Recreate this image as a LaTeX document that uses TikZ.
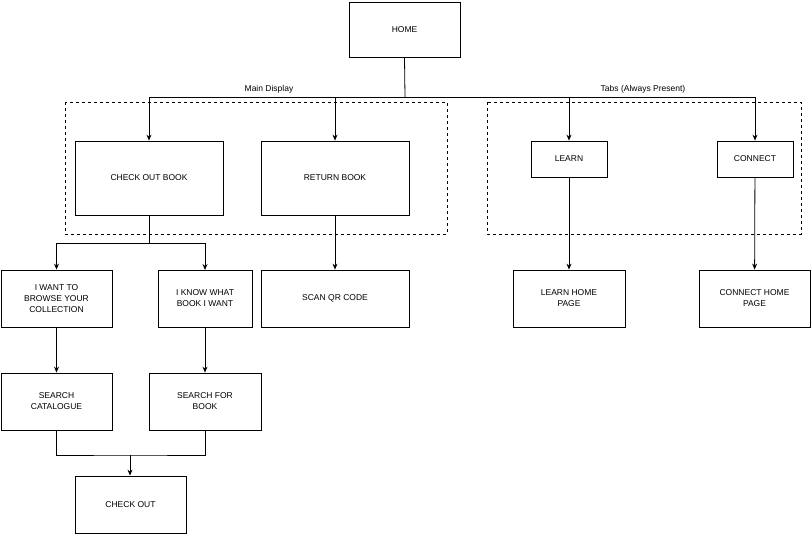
\documentclass[tikz,border=0pt]{standalone}
\usepackage{fontspec}
\setmainfont{Liberation Sans}
\usetikzlibrary{arrows.meta}
\begin{document}
\begin{tikzpicture}[x=1pt,y=-1pt,
  box/.style={draw,thick,minimum width=#1,align=center,inner sep=1pt,font=\fontsize{8.5}{11}\selectfont},
  arr/.style={-{Stealth[length=6pt,width=5pt]},thick},
  ln/.style={thick},
  lbl/.style={font=\fontsize{8.5}{11}\selectfont,fill=white,inner sep=1pt}]
\useasboundingbox (0,0) rectangle (811,534);
\draw[dashed] (65,102) rectangle (447,234);
\draw[dashed] (487,102) rectangle (801,234);
\newcommand{\bx}[7]{\node[box=#4-#2 pt,minimum height=#5-#3 pt] (#1) at ({(#2+#4)/2},{(#3+#5)/2}) {#6};}
\bx{home}{349}{2}{460}{57}{HOME}{}
\bx{cob}{75}{141}{223}{215}{CHECK OUT BOOK}{}
\bx{ret}{261}{141}{409}{215}{RETURN BOOK}{}
\bx{learn}{531}{141}{607}{177}{LEARN}{}
\bx{conn}{717}{141}{793}{177}{CONNECT}{}
\bx{browse}{1}{270}{112}{327}{I WANT TO\\BROWSE YOUR\\COLLECTION}{}
\bx{know}{158}{270}{252}{327}{I KNOW WHAT\\BOOK I WANT}{}
\bx{scan}{261}{270}{409}{327}{SCAN QR CODE}{}
\bx{lhome}{513}{270}{625}{327}{LEARN HOME\\PAGE}{}
\bx{chome}{699}{270}{810}{327}{CONNECT HOME\\PAGE}{}
\bx{scat}{1}{373}{112}{430}{SEARCH\\CATALOGUE}{}
\bx{sbook}{149}{373}{261}{430}{SEARCH FOR\\BOOK}{}
\bx{co}{75}{476}{186}{533}{CHECK OUT}{}
\coordinate (hj) at (405,97);
\draw[ln] (home.south) -- (hj);
\draw[arr] (hj) -| (cob.north);
\draw[arr] (hj) -| (ret.north);
\draw[arr] (hj) -| (learn.north);
\draw[arr] (hj) -| (conn.north);
\node[lbl] at (269,89) {Main Display};
\node[lbl] at (643,89) {Tabs (Always Present)};
\coordinate (cj) at (149,243);
\draw[ln] (cob.south) -- (cj);
\draw[arr] (cj) -| (browse.north);
\draw[arr] (cj) -| (205,270);
\draw[arr] (ret) -- (scan);
\draw[arr] (learn) -- (lhome);
\draw[arr] (conn) -- (chome);
\draw[arr] (browse) -- (scat);
\draw[arr] (know) -- (know|-sbook.north);
\coordinate (sj) at (130,455);
\draw[ln] (scat.south) |- (sj) -| (sbook.south);
\draw[arr] (sj) -- (co.north-|sj);
\end{tikzpicture}
\end{document}
